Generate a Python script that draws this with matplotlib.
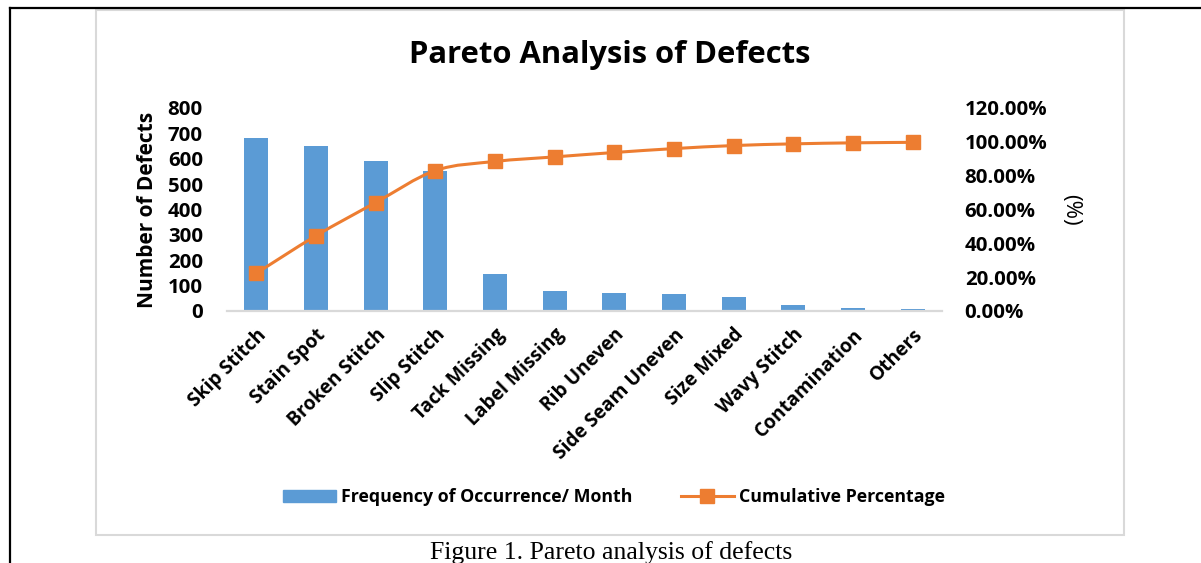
import matplotlib.pyplot as plt
from matplotlib.path import Path
from matplotlib.patches import PathPatch, Rectangle
from matplotlib.lines import Line2D
from matplotlib.ticker import FuncFormatter

# data
defects = ['Skip Stitch', 'Stain Spot', 'Broken Stitch', 'Slip Stitch', 'Tack Missing',
           'Label Missing', 'Rib Uneven', 'Side Seam Uneven', 'Size Mixed', 'Wavy Stitch',
           'Contamination', 'Others']
frequency = [680, 650, 593, 552, 147, 78, 71, 67, 54, 24, 11, 7]
cumulative = [0.223, 0.445, 0.641, 0.830, 0.884, 0.911, 0.937, 0.960, 0.978, 0.988, 0.994, 0.997]

blue = '#5B9BD5'
orange = '#ED7D31'
grey = '#D9D9D9'
font = 'Open Sans'

fig = plt.figure(figsize=(12.01, 5.63), dpi=100)

# page frame lines and the chart area box
fig.add_artist(Line2D([10 / 1201, 10 / 1201], [0, 1 - 8 / 563], color='black', lw=1.6,
                      transform=fig.transFigure))
fig.add_artist(Line2D([10 / 1201, 1], [1 - 8 / 563, 1 - 8 / 563], color='black', lw=1.6,
                      transform=fig.transFigure))
fig.add_artist(Rectangle((96 / 1201, 1 - 535 / 563), 1028 / 1201, 525 / 563, fill=False,
                         edgecolor=grey, lw=1.5, transform=fig.transFigure))

ax = fig.add_axes([226.5 / 1201, 1 - 311 / 563, 716 / 1201, 203 / 563])
x = list(range(len(defects)))
ax.bar(x, frequency, width=0.4, color=blue, zorder=2)
ax.set_xlim(-0.5, len(defects) - 0.5)
ax.set_ylim(0, 800)
ax.set_yticks(range(0, 801, 100))
ax.set_xticks(x)
ax.set_xticklabels(defects, rotation=45, ha='right', rotation_mode='anchor',
                   fontsize=13.8, fontweight='bold', family=font)
ax.tick_params(axis='x', length=0, pad=10)
ax.tick_params(axis='y', length=0, pad=17)
for lab in ax.get_yticklabels():
    lab.set_fontsize(14.7)
    lab.set_fontweight('bold')
    lab.set_family(font)
for s in ['top', 'right', 'left']:
    ax.spines[s].set_visible(False)
ax.spines['bottom'].set_color(grey)
ax.spines['bottom'].set_linewidth(1.6)
ax.set_ylabel('Number of Defects', fontsize=15, fontweight='bold', family=font, labelpad=7)

ax2 = ax.twinx()
ax2.set_ylim(0, 1.2)
ax2.set_yticks([i * 0.2 for i in range(7)])
ax2.yaxis.set_major_formatter(FuncFormatter(lambda v, p: f'{v * 100:.2f}%'))
ax2.tick_params(axis='y', length=0, pad=16)
for lab in ax2.get_yticklabels():
    lab.set_fontsize(14.7)
    lab.set_fontweight('bold')
    lab.set_family(font)
for s in ax2.spines.values():
    s.set_visible(False)
ax2.set_ylabel('(%)', fontsize=16, family=font, rotation=270, labelpad=24)

# smoothed cumulative line (Catmull-Rom segments as cubic Bezier curves)
pts = list(zip(x, cumulative))
verts = [pts[0]]
codes = [Path.MOVETO]
for i in range(len(pts) - 1):
    p0 = pts[i - 1] if i > 0 else pts[i]
    p1 = pts[i]
    p2 = pts[i + 1]
    p3 = pts[i + 2] if i + 2 < len(pts) else pts[i + 1]
    c1 = (p1[0] + (p2[0] - p0[0]) / 6, p1[1] + (p2[1] - p0[1]) / 6)
    c2 = (p2[0] - (p3[0] - p1[0]) / 6, p2[1] - (p3[1] - p1[1]) / 6)
    verts += [c1, c2, p2]
    codes += [Path.CURVE4] * 3
ax2.add_patch(PathPatch(Path(verts, codes), fill=False, edgecolor=orange, lw=2.2, zorder=3))
ax2.plot(x, cumulative, linestyle='none', marker='s', markersize=9.5, color=orange, zorder=4)

handles = [Rectangle((0, 0), 1, 1, color=blue),
           Line2D([], [], color=orange, lw=2.2, marker='s', markersize=9.5)]
fig.legend(handles, ['Frequency of Occurrence/ Month', 'Cumulative Percentage'],
           loc='center', bbox_to_anchor=(614 / 1201, 1 - 497 / 563), ncol=2, frameon=False,
           prop={'family': font, 'weight': 'bold', 'size': 12.8},
           handlelength=3.0, handletextpad=0.3, columnspacing=2.7)

fig.text(610 / 1201, 1 - 55 / 563, 'Pareto Analysis of Defects', ha='center', va='center',
         fontsize=22.3, fontweight='bold', family=font)
fig.text(611 / 1201, 1 - 553 / 563, 'Figure 1. Pareto analysis of defects', ha='center',
         va='center', fontsize=18.5, family='Liberation Serif')

fig.savefig('out.png', dpi=100)
